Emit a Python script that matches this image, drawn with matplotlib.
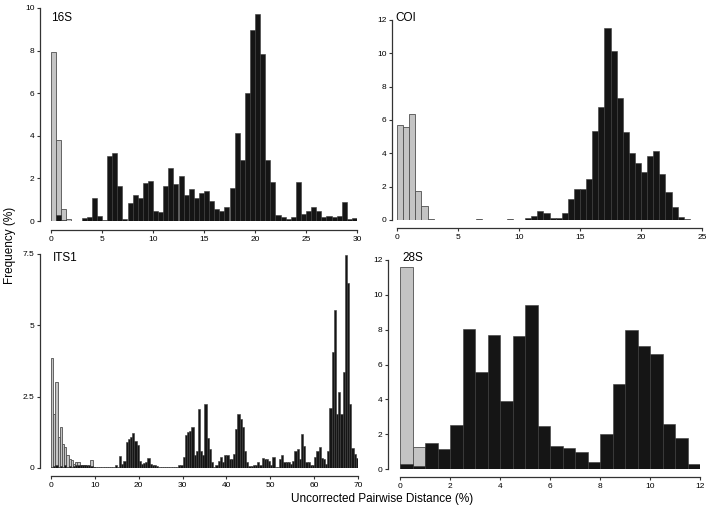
# =========================
# PAIRWISE DISTANCE HISTOGRAMS (16S, COI, ITS1, 28S)
# =========================
import numpy as np
import matplotlib.pyplot as plt

plt.rcParams["font.family"] = ["Liberation Sans", "DejaVu Sans"]

# =========================
# DATA (frequency %, bins of 0.5 %)
# =========================
BIN_W = 0.5

GREY_16S = [7.93, 3.78, 0.58, 0.1] + [0] * 56
BLACK_16S = [
    0, 0.28, 0.05, 0.02, 0.01, 0.01, 0.13, 0.2, 1.08, 0.25,
    0.07, 3.05, 3.17, 1.63, 0.08, 0.85, 1.24, 1.08, 1.8, 1.88,
    0.45, 0.42, 1.65, 2.51, 1.72, 2.1, 1.24, 1.52, 1.08, 1.32,
    1.43, 0.94, 0.55, 0.45, 0.66, 1.57, 4.15, 2.88, 5.99, 8.95,
    9.73, 7.85, 2.88, 1.83, 0.27, 0.2, 0.08, 0.2, 1.82, 0.31,
    0.49, 0.64, 0.49, 0.2, 0.24, 0.2, 0.25, 0.88, 0.11, 0.14,
]

GREY_COI = [5.69, 5.61, 6.35, 1.76, 0.84, 0.06] + [0] * 44
BLACK_COI = [
    0, 0, 0, 0, 0, 0, 0, 0, 0, 0,
    0, 0, 0, 0.05, 0, 0, 0, 0, 0.04, 0,
    0.03, 0.1, 0.22, 0.52, 0.45, 0.15, 0.15, 0.4, 1.28, 1.85,
    1.85, 2.45, 5.36, 6.8, 11.5, 10.17, 7.35, 5.27, 4.02, 3.45,
    2.9, 3.85, 4.12, 2.78, 1.7, 0.77, 0.18, 0.05, 0.01, 0,
]

GREY_ITS1 = [
    3.84, 1.9, 3.0, 1.1, 1.45, 0.85, 0.75, 0.45, 0.3, 0.28,
    0.15, 0.22, 0.22, 0.12, 0.1, 0.1, 0.05, 0.05, 0.28, 0.02,
] + [0] * 120
BLACK_ITS1 = [
    0.03, 0.08, 0.1, 0.05, 0.08, 0.05, 0.1, 0.05, 0.08, 0.05,
    0.08, 0.1, 0.12, 0.12, 0.12, 0.12, 0.12, 0.1, 0.08, 0.05,
    0.02, 0.02, 0.02, 0.02, 0.02, 0.02, 0.02, 0.02, 0.02, 0.12,
    0.05, 0.42, 0.15, 0.25, 0.9, 1.02, 1.1, 1.22, 0.95, 0.82,
    0.25, 0.15, 0.18, 0.2, 0.35, 0.15, 0.12, 0.12, 0.06, 0.05,
    0.04, 0.02, 0.02, 0.02, 0.03, 0.02, 0.02, 0.02, 0.12, 0.12,
    0.4, 1.15, 1.25, 1.3, 1.43, 0.45, 0.6, 2.08, 0.6, 0.45,
    2.25, 1.05, 0.65, 0.2, 0.05, 0.1, 0.25, 0.4, 0.2, 0.45,
    0.45, 0.3, 0.3, 0.5, 1.38, 1.88, 1.72, 1.45, 0.6, 0.2,
    0.07, 0.07, 0.1, 0.1, 0.2, 0.1, 0.35, 0.3, 0.3, 0.25,
    0.1, 0.4, 0.05, 0.05, 0.3, 0.47, 0.22, 0.22, 0.2, 0.15,
    0.25, 0.6, 0.68, 0.3, 1.2, 0.78, 0.2, 0.2, 0.1, 0.1,
    0.4, 0.58, 0.72, 0.35, 0.3, 0.15, 0.58, 2.1, 4.08, 5.52,
    1.9, 2.68, 1.9, 3.35, 7.45, 6.48, 2.25, 0.7, 0.5, 0.35,
]

GREY_28S = [11.6, 1.25, 0, 0.05] + [0] * 20
BLACK_28S = [
    0.29, 0.17, 1.49, 1.13, 2.55, 8.03, 5.59, 7.72, 3.9, 7.64,
    9.39, 2.49, 1.3, 1.23, 0.96, 0.4, 2.01, 4.87, 7.99, 7.09,
    6.61, 2.6, 1.8, 0.3,
]

# name, grey, black, xmax, ymax, xticks, yticks, ytick labels
PANELS = [
    ("16S", GREY_16S, BLACK_16S, 30, 10, np.arange(0, 31, 5), np.arange(0, 11, 2), None),
    ("COI", GREY_COI, BLACK_COI, 25, 12, np.arange(0, 26, 5), np.arange(0, 13, 2), None),
    ("ITS1", GREY_ITS1, BLACK_ITS1, 70, 7.5, np.arange(0, 71, 10), [0, 2.5, 5, 7.5],
     ["0", "2.5", "5", "7.5"]),
    ("28S", GREY_28S, BLACK_28S, 12, 12, np.arange(0, 13, 2), np.arange(0, 13, 2), None),
]

# pixel layout: x0, x1, y0 (value 0), y1 (value max), left spine px, bottom spine px,
# panel label (left px, baseline px)
LAYOUT = [
    (51, 357, 221, 8, 40, 230, 51, 21),
    (397, 702, 220, 20, 392, 228, 395, 21),
    (51, 358, 468, 254, 40, 476, 53, 261),
    (400, 700, 469, 260, 388, 477, 402, 261),
]

W, H = 720, 513
PX2PT = 72 / 100

# =========================
# FIGURE
# =========================
fig = plt.figure(figsize=(W / 100, H / 100), dpi=100)

for (NAME, GREY, BLACK, XMAX, YMAX, XT, YT, YTL), (X0, X1, Y0, Y1, LSP, BSP, LX, LY) in zip(PANELS, LAYOUT):
    ax = fig.add_axes([X0 / W, 1 - Y0 / H, (X1 - X0) / W, (Y0 - Y1) / H])
    EDGES = np.arange(len(BLACK)) * BIN_W

    ax.bar(EDGES, GREY, width=BIN_W, align="edge", color="#c4c4c4",
           edgecolor="#505050", linewidth=0.6)
    ax.bar(EDGES, BLACK, width=BIN_W, align="edge", color="#151515",
           edgecolor="#3a3a3a", linewidth=0.4)

    ax.set_xlim(0, XMAX)
    ax.set_ylim(0, YMAX)

    for S in ["top", "right"]:
        ax.spines[S].set_visible(False)
    ax.spines["left"].set_position(("outward", (X0 - LSP) * PX2PT))
    ax.spines["bottom"].set_position(("outward", (BSP - Y0) * PX2PT))
    ax.spines["left"].set_bounds(0, YMAX)
    ax.spines["bottom"].set_bounds(0, XMAX)
    for S in ["left", "bottom"]:
        ax.spines[S].set_linewidth(0.9)
        ax.spines[S].set_color("#333333")

    ax.set_xticks(XT)
    ax.set_yticks(YT)
    if YTL is not None:
        ax.set_yticklabels(YTL)
    ax.tick_params(axis="both", length=2.5, width=0.8, labelsize=6, pad=1.5,
                   color="#333333")

    fig.text(LX / W, 1 - LY / H, NAME, fontsize=8.5, ha="left", va="baseline")

fig.text(10 / W, 1 - 245 / H, "Frequency (%)", rotation=90, fontsize=8.5,
         ha="center", va="center")
fig.text(382 / W, 1 - 499 / H, "Uncorrected Pairwise Distance (%)", fontsize=8.5,
         ha="center", va="center")

fig.savefig("out.png", dpi=100)
